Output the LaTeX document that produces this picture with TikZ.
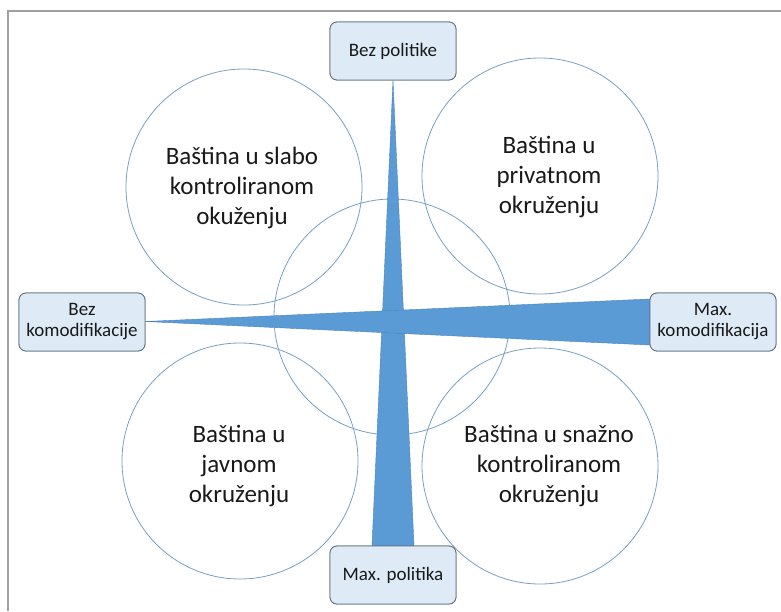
\documentclass[tikz,border=0pt]{standalone}
\usepackage{fontspec}
\setmainfont{Carlito}
\usetikzlibrary{calc}
\definecolor{wedgeblue}{RGB}{91,155,213}
\definecolor{wedgeedge}{RGB}{70,130,190}
\definecolor{boxfill}{RGB}{222,235,247}
\definecolor{boxedge}{RGB}{95,110,125}
\definecolor{ringline}{RGB}{120,160,195}
\definecolor{framegray}{RGB}{160,160,160}
\definecolor{txt}{RGB}{25,25,25}
\tikzset{
  ring/.style={circle, draw=ringline, line width=0.8pt, minimum size=236pt, inner sep=0pt},
  ringtext/.style={align=center, text=txt, font=\fontsize{25}{30}\selectfont},
  axisbox/.style={draw=boxedge, fill=boxfill, rounded corners=7pt, line width=0.8pt,
    minimum width=126pt, minimum height=58pt, inner sep=0pt, align=center,
    text=txt, font=\fontsize{19}{21}\selectfont},
  wedge/.style={fill=wedgeblue, draw=wedgeedge, line width=0.4pt, line join=round}
}
\begin{document}
\begin{tikzpicture}[x=1pt,y=-1pt]
\useasboundingbox (0,0) rectangle (781,611);
\fill[white] (0,0) rectangle (781,611);
\draw[framegray, line width=2pt] (8,611) -- (8,11) -- (781,11);
% circles
\node[ring] (ctl) at (244,187) {};
\node[ring] (ctr) at (540,176) {};
\node[ring] (cc)  at (392,317) {};
\node[ring] (cbl) at (240,461) {};
\node[ring] (cbr) at (540,466) {};
% boxes (positions)
\node[axisbox] (bp) at (393,51) {Bez politike};
\node[axisbox] (mp) at (393,575) {Max. politika};
\node[axisbox] (bk) at (82,322) {Bez\\komodifikacije};
\node[axisbox] (mk) at (713,322) {Max.\\komodifikacija};
% wedges
\draw[wedge] (bp.south) -- ($(mp.north)+(21,0)$) -- ($(mp.north)+(-21,0)$) -- cycle;
\draw[wedge] ($(bk.east)+(0,-0.5)$) -- ($(mk.west)+(0,-23)$) -- ($(mk.west)+(0,23)$) -- cycle;
% boxes on top of wedges
\node[axisbox] at (bp) {Bez politike};
\node[axisbox] at (mp) {Max. politika};
\node[axisbox] at (bk) {Bez\\komodifikacije};
\node[axisbox] at (mk) {Max.\\komodifikacija};
% circle texts
\node[ringtext] (ttl) at (242,188) {Baština u slabo\\kontroliranom\\okuženju};
\node[ringtext] (ttr) at (549,177) {Baština u\\privatnom\\okruženju};
\node[ringtext] (tbl) at (239,466) {Baština u\\javnom\\okruženju};
\node[ringtext] (tbr) at (549,466) {Baština u snažno\\kontroliranom\\okruženju};
\end{tikzpicture}
\end{document}
